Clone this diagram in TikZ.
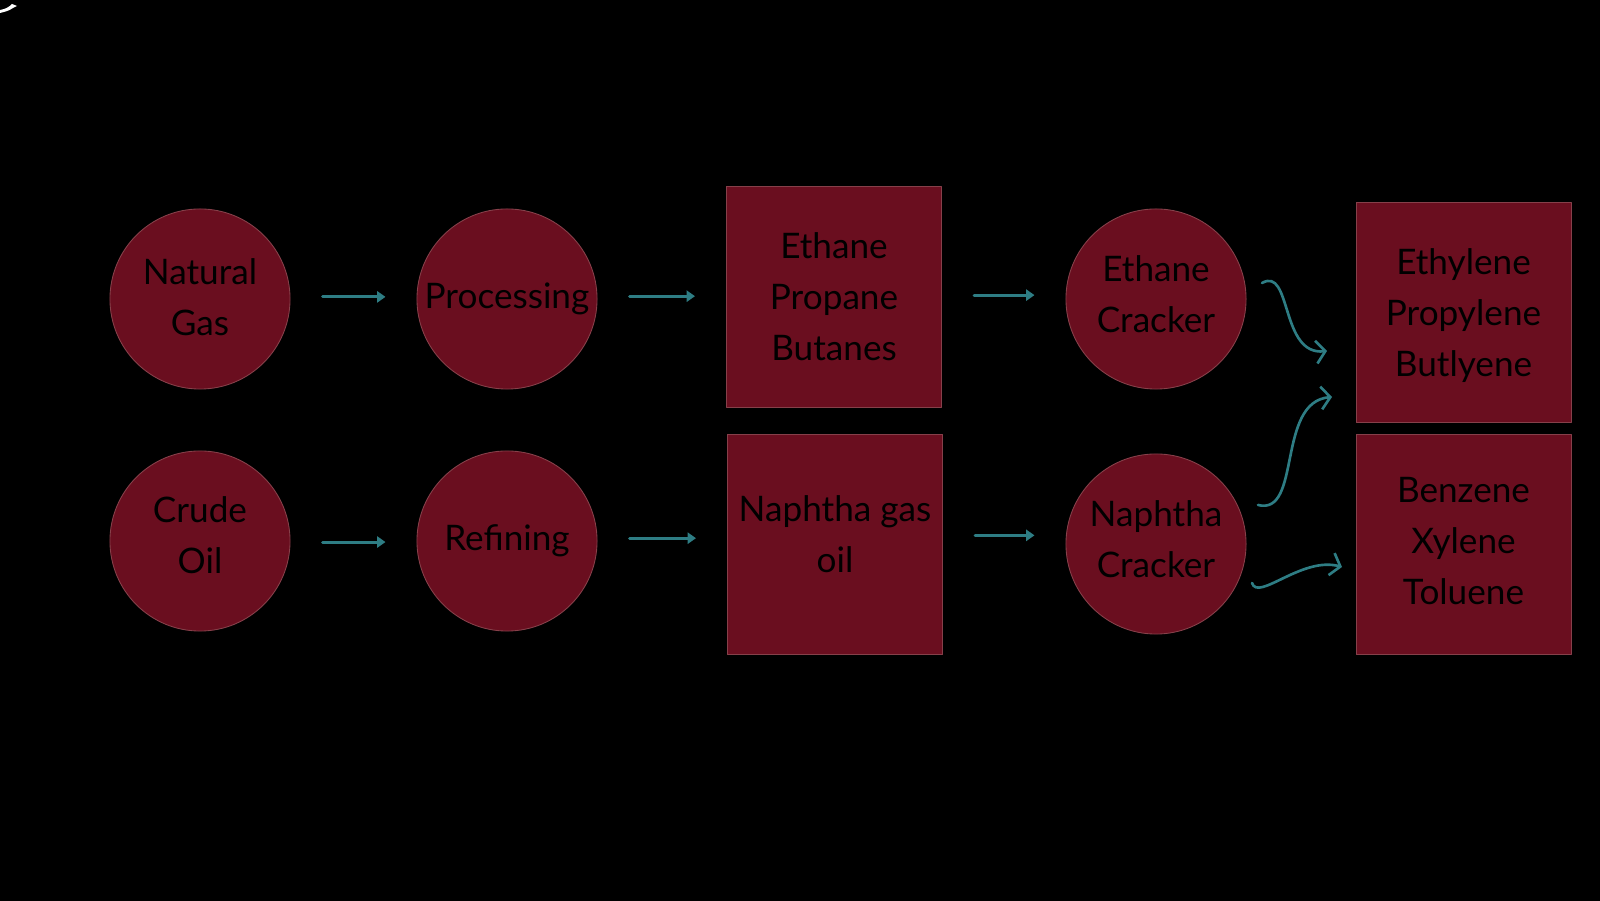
\documentclass[tikz,border=0pt]{standalone}
\usepackage{fontspec}
\setmainfont{Lato}
\usetikzlibrary{arrows.meta,positioning}
\definecolor{crimson}{HTML}{6A0E1F}
\definecolor{rimred}{HTML}{86404A}
\definecolor{teal}{HTML}{2E7D84}

\begin{document}
\begin{tikzpicture}[x=0.01cm,y=-0.01cm,line cap=round,line join=round,
  every node/.style={font=\fontsize{10}{14.5}\selectfont,text=black,align=center,inner sep=0pt},
  stage/.style={circle,fill=crimson,draw=rimred,line width=.25pt,minimum size=1.8cm},
  stock/.style={rectangle,fill=crimson,draw=rimred,line width=.25pt,minimum width=2.15cm,minimum height=2.2cm},
  flow/.style={draw=teal,line width=.85pt,-{Triangle[length=2.4pt,width=3.2pt]},shorten <=.32cm,shorten >=.31cm},
  swirl/.style={draw=teal,line width=.75pt,-{Straight Barb[length=2.6pt,width=6.5pt]}}]
\fill[black] (0,0) rectangle (1600,901);
\path[use as bounding box] (0,0) rectangle (1600,901);
\fill[white] (0,13) -- (0,10) .. controls (6,9) and (9,7) .. (12,4) -- (17,6) -- (13,8) .. controls (9,11) and (4,12) .. (0,13) -- cycle;
\node[stage,text depth=.9pt] (gas) at (200,299) {Natural\\Gas};
\node[stage] (proc) at (507,299) {Processing};
\node[stock,text depth=-2.6pt] (ngl) at (834,297) {Ethane\\Propane\\Butanes};
\node[stage,text depth=2.8pt] (ecrack) at (1156,299) {Ethane\\Cracker};
\node[stock,text depth=-4pt] (olef) at (1463.5,312.5) {Ethylene\\Propylene\\Butlyene};
\node[stage,text depth=3.4pt] (crude) at (200,541) {Crude\\Oil};
\node[stage] (refi) at (507,541) {Refining};
\node[stock,text depth=5.8pt] (naph) at (835,544.5) {Naphtha gas\\oil};
\node[stage,text depth=2.8pt] (ncrack) at (1156,544) {Naphtha\\Cracker};
\node[stock,text depth=2.3pt] (arom) at (1463.5,544.5) {Benzene\\Xylene\\Toluene};
\draw[flow] ([yshift=.6pt]gas.east) -- ([yshift=.6pt]gas.east -| proc.west);
\draw[flow] ([yshift=.8pt]proc.east) -- ([yshift=.8pt]proc.east -| ngl.west);
\draw[flow] ([yshift=1.1pt]ecrack.west -| ngl.east) -- ([yshift=1.1pt]ecrack.west);
\draw[flow] ([yshift=-.3pt]crude.east) -- ([yshift=-.3pt]crude.east -| refi.west);
\draw[flow] ([yshift=.8pt]refi.east) -- ([yshift=.8pt]refi.east -| naph.west);
\draw[flow] ([yshift=2.6pt]naph.east) -- ([yshift=2.6pt]naph.east -| ncrack.west);
\coordinate (s1) at (1262,283);
\coordinate (t1) at (1327,351);
\coordinate (s2) at (1258,505);
\coordinate (t2) at (1332,397);
\coordinate (s3) at (1252,583);
\coordinate (t3) at (1342,567);
\draw[swirl] (s1) .. controls (1292,266) and (1280,356) .. (t1);
\draw[swirl] (s2) .. controls (1302,516) and (1276,402) .. (t2);
\draw[swirl] (s3) .. controls (1258,602) and (1302,556) .. (t3);
\end{tikzpicture}
\end{document}
